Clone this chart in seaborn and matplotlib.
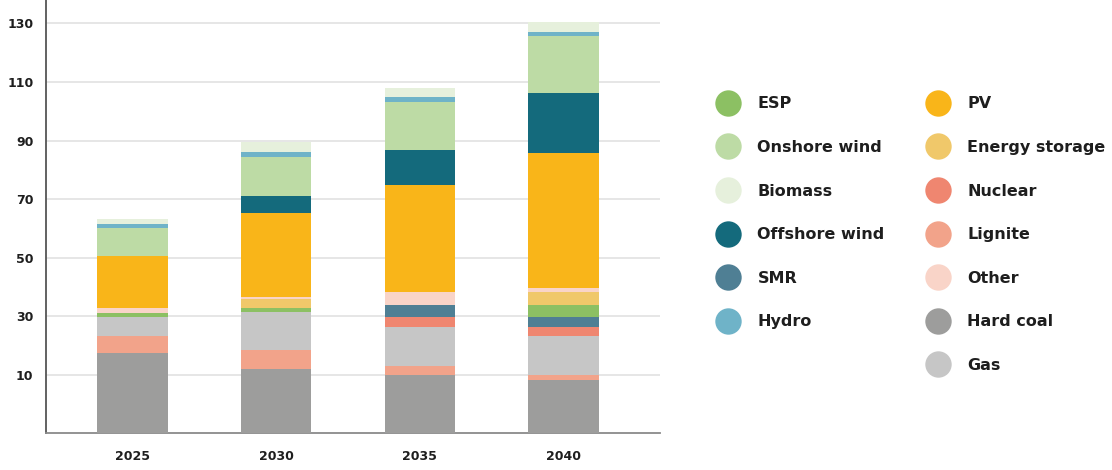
import numpy as np
import pandas as pd
import matplotlib
matplotlib.use("Agg")
import matplotlib.pyplot as plt
from matplotlib.lines import Line2D
import seaborn as sns

# ---- data (GW; stacked bottom -> top) ----
years = ["2025", "2030", "2035", "2040"]
sources = ["Hard coal", "Lignite", "Gas", "Nuclear", "SMR", "ESP",
           "Energy storage", "Other", "PV", "Offshore wind",
           "Onshore wind", "Hydro", "Biomass"]
hard_coal      = [27.3, 21.9, 19.9, 18.2]
lignite        = [6.1, 6.5, 3.2, 1.7]
gas            = [6.2, 13.1, 13.3, 13.3]
nuclear        = [0.0, 0.0, 3.4, 3.2]
smr            = [0.0, 0.0, 4.0, 3.2]
esp            = [1.4, 1.4, 0.0, 4.2]
energy_storage = [0.0, 2.9, 0.0, 4.5]
other          = [1.8, 0.6, 4.5, 1.5]
pv             = [17.9, 28.8, 36.4, 46.0]
offshore_wind  = [0.0, 5.9, 12.0, 20.6]
onshore_wind   = [9.3, 13.2, 16.5, 19.2]
hydro          = [1.5, 1.7, 1.7, 1.4]
biomass        = [1.7, 3.4, 3.2, 3.4]

series = [hard_coal, lignite, gas, nuclear, smr, esp, energy_storage, other,
          pv, offshore_wind, onshore_wind, hydro, biomass]

tick_labels = ["10", "30", "50", "70", "90", "110", "130"]

legend_col1 = ["ESP", "Onshore wind", "Biomass", "Offshore wind", "SMR", "Hydro"]
legend_col2 = ["PV", "Energy storage", "Nuclear", "Lignite", "Other", "Hard coal", "Gas"]

colors = {
    "ESP": "#8cc063",
    "Onshore wind": "#bddba5",
    "Biomass": "#e6f0dc",
    "Offshore wind": "#146a7c",
    "SMR": "#4f7f94",
    "Hydro": "#6fb3c8",
    "PV": "#f9b519",
    "Energy storage": "#f0c86a",
    "Nuclear": "#ef8670",
    "Lignite": "#f2a38a",
    "Other": "#f9d4c8",
    "Hard coal": "#9d9d9c",
    "Gas": "#c6c6c6",
}

df = pd.DataFrame({"year": np.repeat(years, len(sources)),
                   "source": sources * len(years),
                   "value": np.array(series).T.ravel()})

sns.set_theme(style="white")
plt.rcParams["font.family"] = ["DejaVu Sans"]
text_color = "#1e1e1e"

fig = plt.figure(figsize=(11.12, 4.70), dpi=100)
ax = fig.add_axes([0.0414, 0.078, 0.552, 0.922])

bottom = np.zeros(len(years))
for src in sources:
    sub = df[df["source"] == src].set_index("year").loc[years].reset_index()
    sns.barplot(data=sub, x="year", y="value", order=years, color=colors[src],
                width=0.49, bottom=bottom, ax=ax, linewidth=0, zorder=3,
                saturation=1)
    bottom = bottom + sub["value"].to_numpy()

ax.set_xlim(-0.60, 3.67)
ax.set_ylim(0, 148)
tick_pos = np.arange(20, 141, 20)
ax.set_yticks(tick_pos)
ax.set_yticklabels(tick_labels)
ax.yaxis.grid(True, color="#e6e6e6", linewidth=1.4, zorder=0)
ax.xaxis.grid(False)
ax.set_xlabel("")
ax.set_ylabel("")
for s in ["top", "right"]:
    ax.spines[s].set_visible(False)
ax.spines["left"].set_color("#555555")
ax.spines["left"].set_linewidth(1.3)
ax.spines["bottom"].set_color("#8a8a8a")
ax.spines["bottom"].set_linewidth(1.3)
ax.tick_params(axis="y", length=0, pad=9, labelsize=9, labelcolor=text_color)
ax.tick_params(axis="x", length=0, pad=12, labelsize=9, labelcolor=text_color)
for lab in ax.get_xticklabels() + ax.get_yticklabels():
    lab.set_fontweight("bold")

def handles_for(names):
    return [Line2D([0], [0], marker="o", linestyle="", markersize=19,
                   markerfacecolor=colors[n], markeredgewidth=0) for n in names]

common = dict(frameon=False, loc="upper left", borderaxespad=0, borderpad=0,
              handlelength=1.0, handletextpad=1.34, labelspacing=1.79,
              prop={"size": 11.5, "weight": "bold"}, labelcolor=text_color)
leg1 = fig.legend(handles_for(legend_col1), legend_col1,
                  bbox_to_anchor=(0.6475, 0.795), **common)
leg2 = fig.legend(handles_for(legend_col2), legend_col2,
                  bbox_to_anchor=(0.8363, 0.795), **common)

fig.savefig("out.png", dpi=100)
